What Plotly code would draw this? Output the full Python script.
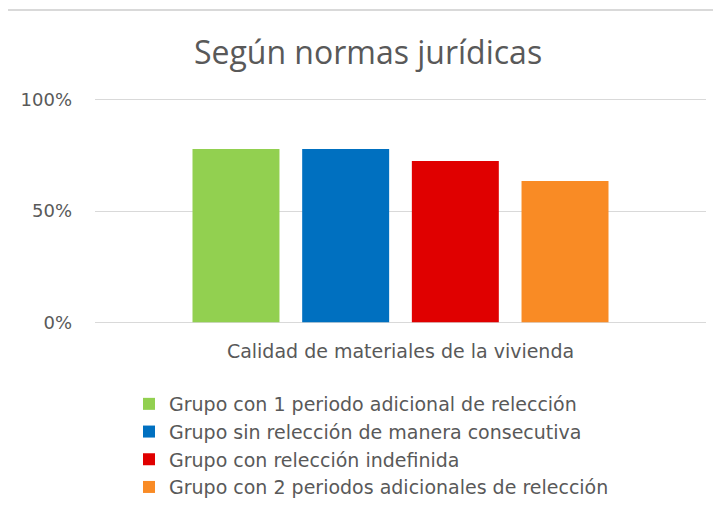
import plotly.graph_objects as go

categories = ["Calidad de materiales de la vivienda"]
series_names = [
    "Grupo con 1 periodo adicional de relección",
    "Grupo sin relección de manera consecutiva",
    "Grupo con relección indefinida",
    "Grupo con 2 periodos adicionales de relección",
]
series_values = [[0.778], [0.778], [0.725], [0.635]]
series_colors = ["#92d050", "#0070c0", "#e00000", "#f98b25"]
y_tickvals = [0, 0.5, 1.0]
y_ticklabels = ["0%", "50%", "100%"]

fig = go.Figure()
for name, vals, col in zip(series_names, series_values, series_colors):
    fig.add_trace(go.Bar(x=categories, y=vals, name=name, marker=dict(color=col, line=dict(width=0))))

OFF = 8  # page body margin
W, H = 721 - OFF, 511 - OFF
eps = 0.012
# target: 0..1 spans reference pixels y 322..100; plot area padded by eps
span = 222
pad = eps * span
L = 95 - OFF
R = W - (706 - OFF)
T = int(round(100 - pad)) - OFF
B = H - (int(round(322 + pad)) - OFF)
pw, ph = W - L - R, H - T - B

def px2x(p):
    return (p - OFF - L) / pw

def py2y(p):
    return (H - B - (p - OFF)) / ph

fig.update_layout(
    width=W, height=H,
    margin=dict(l=L, r=R, t=T, b=B, autoexpand=False),
    paper_bgcolor="white", plot_bgcolor="white",
    font=dict(family="DejaVu Sans", color="#595959"),
    title=dict(text="Según normas jurídicas", x=(368 - OFF) / W, xanchor="center",
               y=1 - (53 - OFF) / H, yanchor="middle",
               font=dict(family="Open Sans", size=32, color="#595959")),
    barmode="group", bargap=0.282, bargroupgap=0.207,
    showlegend=True,
    legend=dict(orientation="v", x=px2x(129), xanchor="left", y=py2y(385), yanchor="top",
                font=dict(family="DejaVu Sans", size=19, color="#595959"),
                bgcolor="rgba(0,0,0,0)", itemclick=False, traceorder="normal"),
    xaxis=dict(showgrid=False, showline=False, ticks="", tickfont=dict(size=19, color="#595959"),
               ticklabelstandoff=13),
    yaxis=dict(range=[-eps, 1.0 + eps], tickvals=y_tickvals, ticktext=y_ticklabels, showgrid=True,
               gridcolor="#d9d9d9", gridwidth=1, zeroline=False, showline=False,
               tickfont=dict(size=18, color="#595959"), ticklabelstandoff=22),
)

bx = px2x(6)
by = py2y(10)
fig.add_shape(type="line", xref="paper", yref="paper", x0=bx, x1=bx, y0=-2, y1=by,
              line=dict(color="#d9d9d9", width=2))
fig.add_shape(type="line", xref="paper", yref="paper", x0=bx, x1=1.2, y0=by, y1=by,
              line=dict(color="#d9d9d9", width=2))

fig.write_html("out.html")
